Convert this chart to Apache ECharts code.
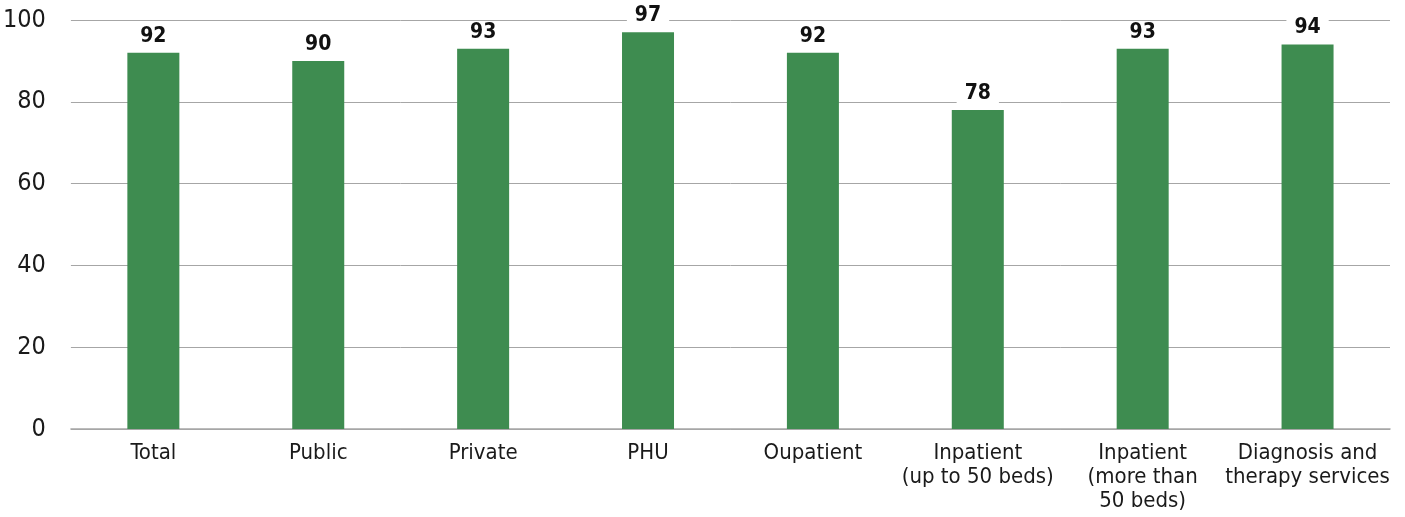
<!DOCTYPE html>
<html><head><meta charset="utf-8">
<script src="https://cdn.jsdelivr.net/npm/echarts@6/dist/echarts.min.js"></script>
<style>html,body{margin:0;padding:0;background:#fff}#c{width:1405px;height:517px}</style>
</head><body><div id="c"></div>
<script>
const categories = ['Total','Public','Private','PHU','Oupatient','Inpatient\n(up to 50 beds)','Inpatient\n(more than\n50 beds)','Diagnosis and\ntherapy services'];
const values = [92, 90, 93, 97, 92, 78, 93, 94];
const yTicks = {min: 0, max: 100, interval: 20};
const FONT = '"Liberation Sans Narrow", "DejaVu Sans Condensed", sans-serif';
const chart = echarts.init(document.getElementById('c'));
chart.setOption({
  animation: false,
  grid: {left: 70, right: 15, top: 20, bottom: 88},
  xAxis: {
    type: 'category', data: categories,
    axisLine: {lineStyle: {color: '#a6a6a6', width: 1.5}},
    axisTick: {show: false},
    axisLabel: {color: '#1a1a1a', fontFamily: FONT, fontSize: 22, lineHeight: 24, margin: 12, interval: 0}
  },
  yAxis: {
    type: 'value', min: yTicks.min, max: yTicks.max, interval: yTicks.interval,
    axisLine: {show: false}, axisTick: {show: false},
    splitLine: {lineStyle: {color: '#a6a6a6', width: 1}},
    axisLabel: {color: '#1a1a1a', fontFamily: FONT, fontSize: 25, margin: 25}
  },
  series: [{
    type: 'bar', data: values, barWidth: 52,
    itemStyle: {color: '#3e8c50'},
    label: {show: true, position: 'top', distance: 6, color: '#111', fontFamily: FONT, fontWeight: 'bold', fontSize: 21,
      backgroundColor: '#fff', padding: [0, 8]}
  }]
});
</script></body></html>
